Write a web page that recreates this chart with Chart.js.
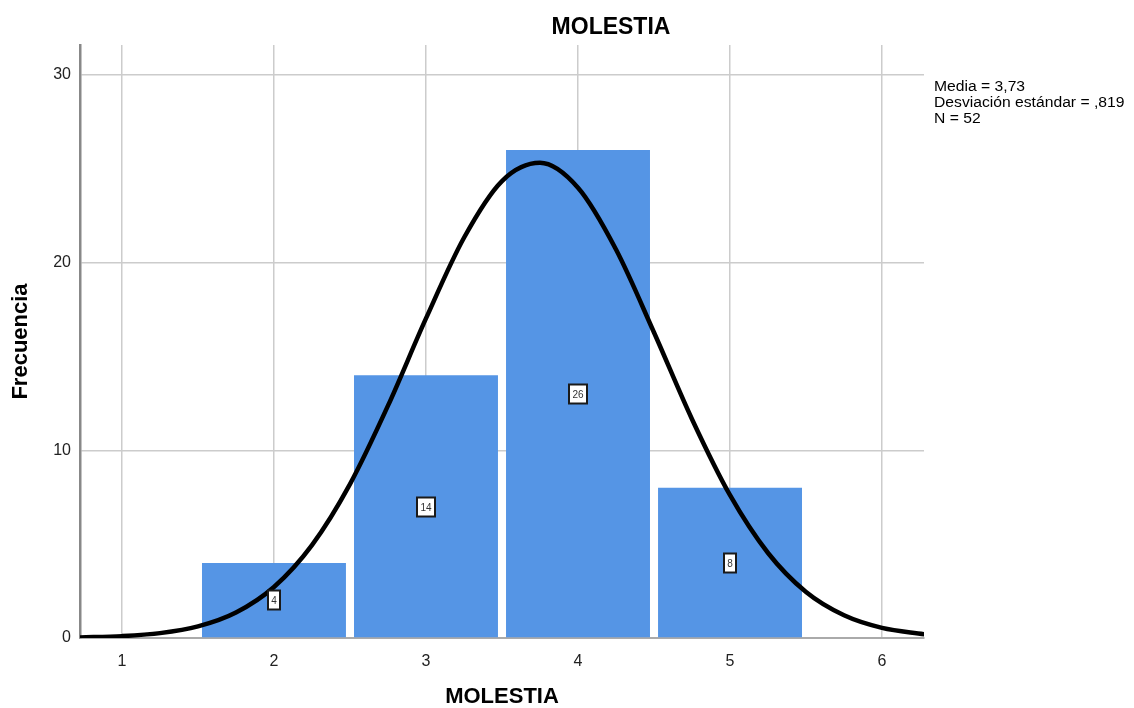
<!DOCTYPE html>
<html>
<head>
<meta charset="utf-8">
<script src="https://cdn.jsdelivr.net/npm/chart.js@4"></script>
<style>
  html, body { margin: 0; padding: 0; background: #fff; }
  #wrap { width: 1134px; height: 708px; }
</style>
</head>
<body>
<div id="wrap"><canvas id="histChart"></canvas></div>
<script>
// Histogram data (MOLESTIA)
const binCenters = [2, 3, 4, 5];
const binCounts = [4, 14, 26, 8];

// Normal curve
const curveX = [0.72, 1, 1.25, 1.5, 1.75, 2, 2.25, 2.5, 2.75, 3, 3.25, 3.5, 3.75,
                4, 4.25, 4.5, 4.75, 5, 5.25, 5.5, 5.75, 6, 6.28];
const curveY = [0.03, 0.1, 0.26, 0.62, 1.36, 2.72, 4.95, 8.2, 12.38, 17.03, 21.33, 24.35, 25.32,
                23.99, 20.7, 16.28, 11.66, 7.61, 4.53, 2.45, 1.21, 0.54, 0.2];

// Tick labels
const xTicks = [1, 2, 3, 4, 5, 6];
const yTicks = [0, 10, 20, 30];

const statsLines = ['Media = 3,73', 'Desviación estándar = ,819', 'N = 52'];

const FONT = 'Arial, "Liberation Sans", sans-serif';

// Draw the small boxed count labels, the title and the stats text
const extrasPlugin = {
    id: 'extras',
    afterDatasetsDraw(chart) {
        const ctx = chart.ctx;
        const xs = chart.scales.x;
        const ys = chart.scales.y;
        ctx.save();
        ctx.font = '10px ' + FONT;
        ctx.textAlign = 'center';
        ctx.textBaseline = 'middle';
        binCenters.forEach((c, i) => {
            const px = Math.round(xs.getPixelForValue(c));
            const py = Math.round(ys.getPixelForValue(binCounts[i] / 2));
            const w = binCounts[i] >= 10 ? 18 : 12;
            const h = 19;
            ctx.fillStyle = '#ffffff';
            ctx.fillRect(px - w / 2, py - h / 2, w, h);
            ctx.strokeStyle = '#1a1a1a';
            ctx.lineWidth = 2;
            ctx.strokeRect(px - w / 2, py - h / 2, w, h);
            ctx.fillStyle = '#333';
            ctx.fillText(String(binCounts[i]), px, py + 1);
        });
        ctx.restore();
    },
    afterDraw(chart) {
        const ctx = chart.ctx;
        ctx.save();
        ctx.fillStyle = '#000';
        ctx.font = 'bold 23px ' + FONT;
        ctx.textAlign = 'center';
        ctx.textBaseline = 'middle';
        ctx.fillText('MOLESTIA', 611, 28);

        // stats text is drawn a little wider than tall, as in the reference
        ctx.font = '14px ' + FONT;
        ctx.textAlign = 'left';
        ctx.textBaseline = 'alphabetic';
        ctx.translate(934, 0);
        ctx.scale(1.12, 1);
        statsLines.forEach((t, i) => {
            ctx.fillText(t, 0, 91 + i * 16);
        });
        ctx.restore();
    }
};

new Chart(document.getElementById('histChart'), {
    type: 'bar',
    data: {
        datasets: [
            {
                type: 'line',
                data: curveX.map((x, i) => ({ x: x, y: curveY[i] })),
                borderColor: '#000000',
                borderWidth: 4.5,
                pointRadius: 0,
                cubicInterpolationMode: 'monotone',
                fill: false,
                order: 0
            },
            {
                type: 'bar',
                data: binCenters.map((c, i) => ({ x: c, y: binCounts[i] })),
                backgroundColor: '#5595e5',
                borderWidth: 0,
                barPercentage: 0.947,
                categoryPercentage: 1,
                order: 1
            }
        ]
    },
    options: {
        responsive: true,
        maintainAspectRatio: false,
        animation: false,
        layout: { padding: { top: 45, right: 210, left: 0, bottom: 0 } },
        plugins: {
            legend: { display: false },
            title: { display: false },
            tooltip: { enabled: false }
        },
        scales: {
            x: {
                type: 'linear',
                offset: false,
                min: 0.724,
                max: 6.276,
                afterBuildTicks: s => { s.ticks = xTicks.map(v => ({ value: v })); },
                afterFit: s => { s.height = 70; },
                ticks: {
                    color: '#222',
                    font: { family: FONT, size: 16 },
                    padding: 14
                },
                grid: {
                    offset: false,
                    color: '#cccccc',
                    lineWidth: 1.5,
                    drawTicks: false
                },
                border: { color: '#aaaaaa', width: 2 },
                title: {
                    display: true,
                    text: 'MOLESTIA',
                    color: '#000',
                    font: { family: FONT, size: 22, weight: 'bold' },
                    padding: { top: 0, bottom: -2 }
                }
            },
            y: {
                type: 'linear',
                min: 0,
                max: 31.6,
                afterBuildTicks: s => { s.ticks = yTicks.map(v => ({ value: v })); },
                afterFit: s => { s.width = 80; },
                ticks: {
                    color: '#222',
                    font: { family: FONT, size: 16 },
                    padding: 9
                },
                grid: {
                    color: '#cccccc',
                    lineWidth: 1.5,
                    drawTicks: false
                },
                border: { color: '#888888', width: 2.5 },
                title: {
                    display: true,
                    text: 'Frecuencia',
                    color: '#000',
                    font: { family: FONT, size: 22, weight: 'bold' },
                    padding: { top: 8, bottom: 0 }
                }
            }
        }
    },
    plugins: [extrasPlugin]
});
</script>
</body>
</html>
